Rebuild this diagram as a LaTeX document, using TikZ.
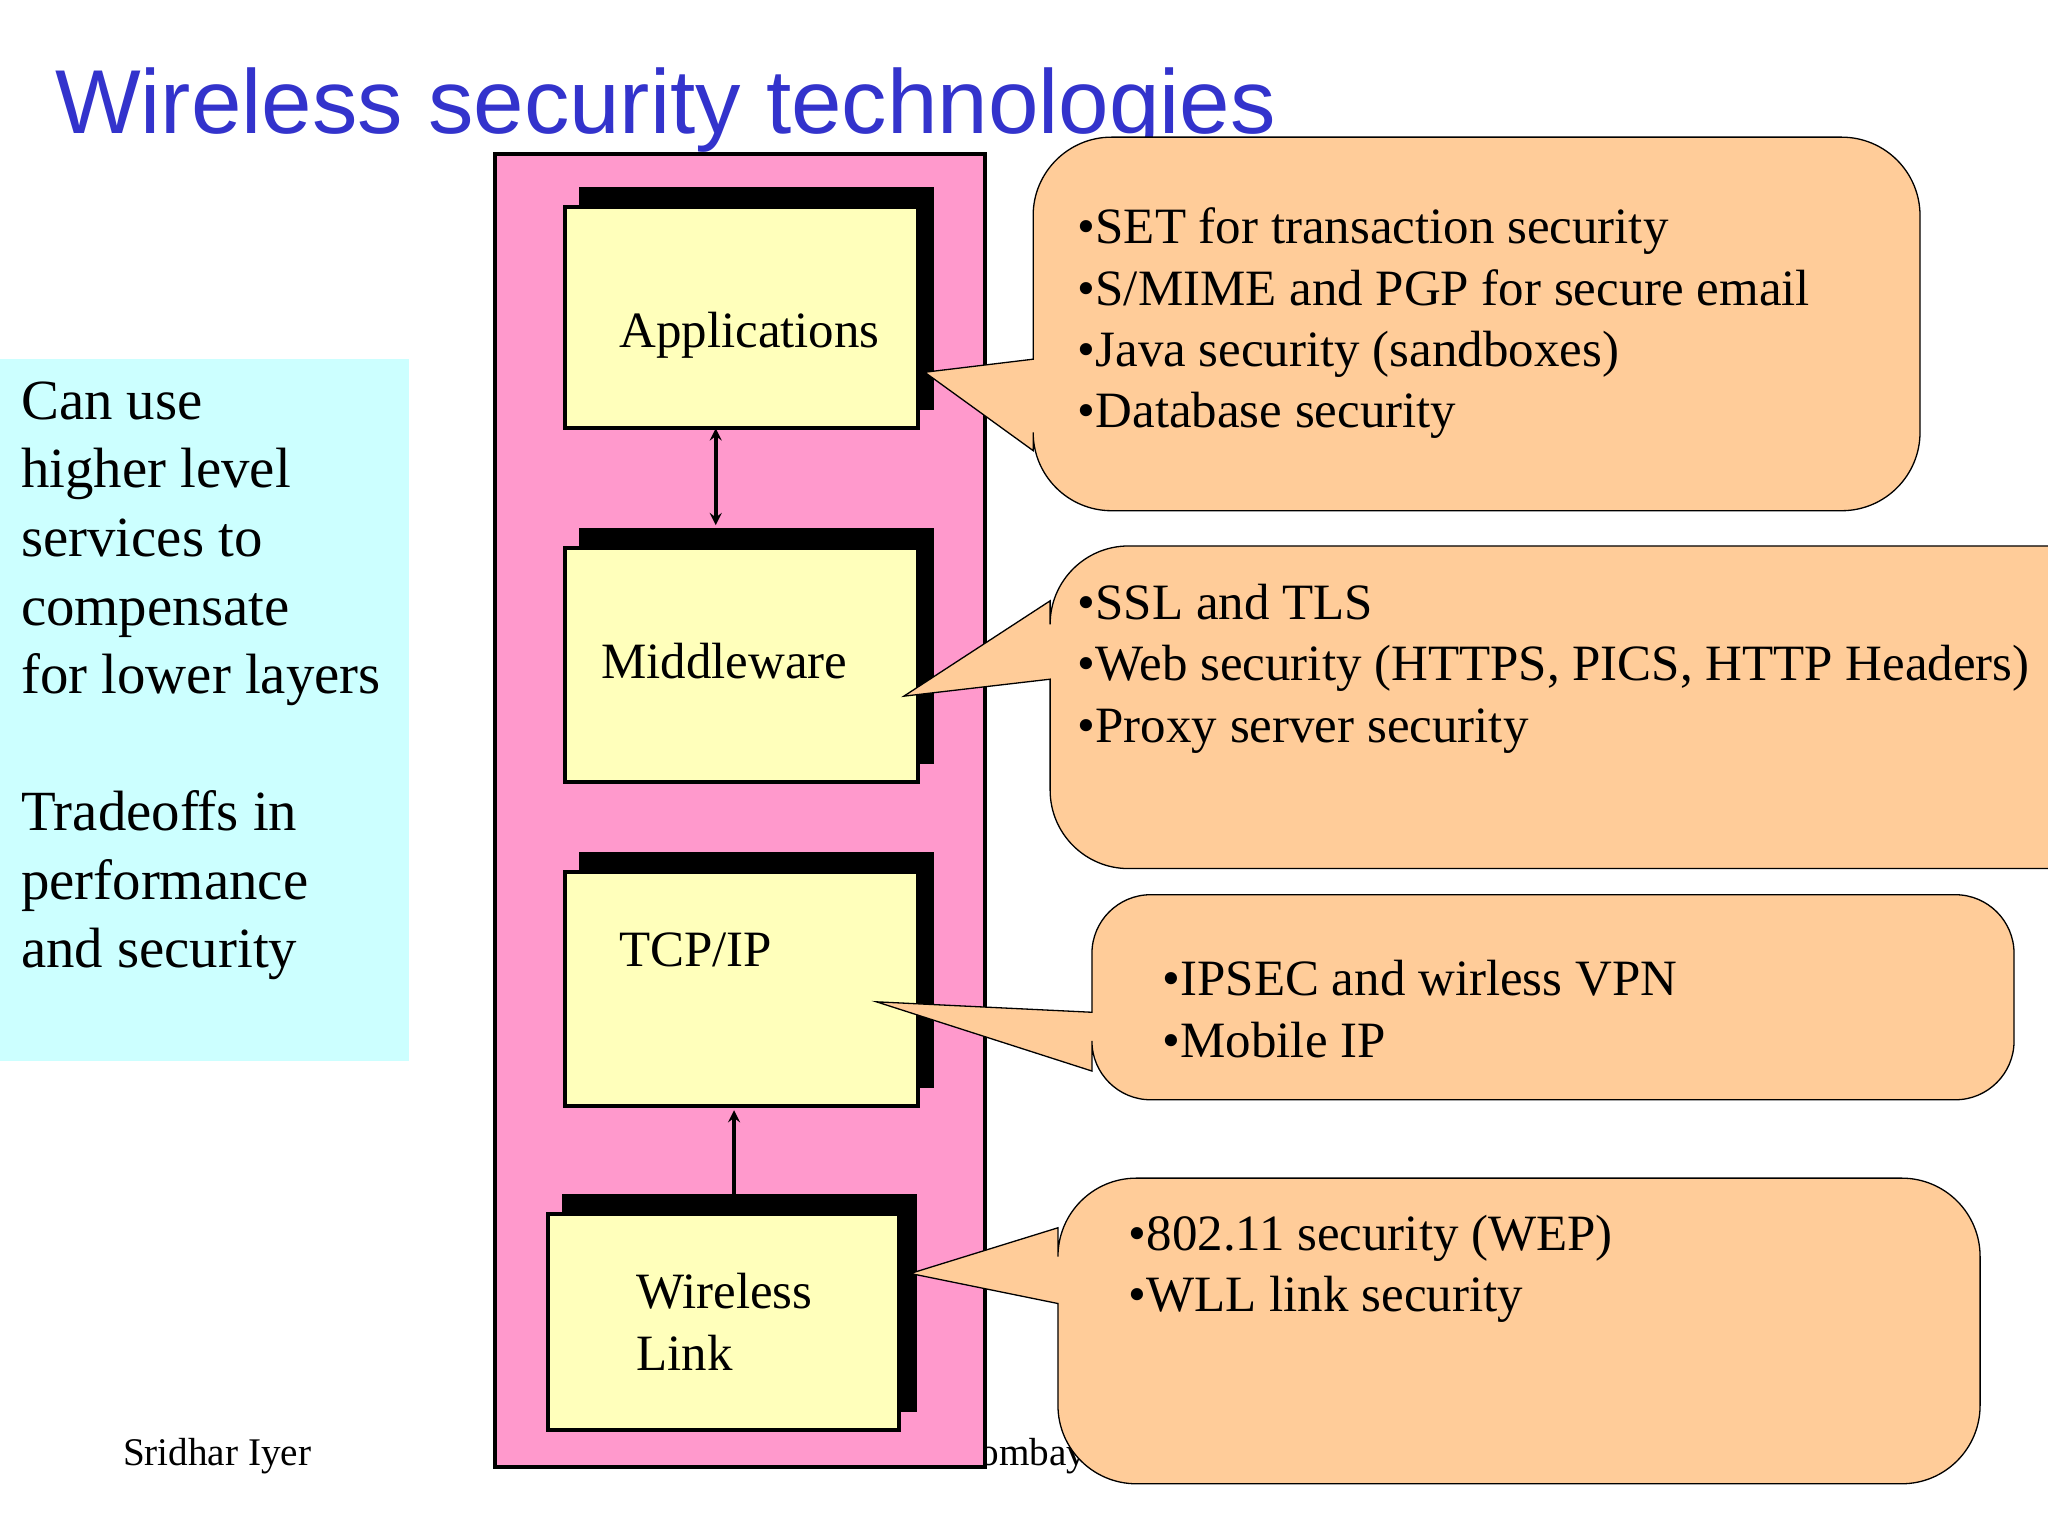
\documentclass[tikz,border=0pt]{standalone}
\usepackage{fontspec}
\setmainfont{Liberation Serif}
\newfontfamily\titlefont{Liberation Sans}
\definecolor{ttl}{RGB}{51,51,204}
\definecolor{cyanbg}{RGB}{204,255,255}
\definecolor{pinkbg}{RGB}{255,153,204}
\definecolor{boxy}{RGB}{255,255,187}
\definecolor{callo}{RGB}{255,204,153}
\begin{document}
\begin{tikzpicture}[x=1pt,y=-1pt,
  layer/.style={draw=black,line width=3pt,fill=boxy},
  shad/.style={fill=black},
  call/.style={draw=black,line width=1pt,fill=callo},
  ctext/.style={anchor=north west,align=left,font=\fontsize{39}{47}\selectfont,inner sep=0pt},
  btext/.style={anchor=west,align=left,font=\fontsize{39}{47}\selectfont,inner sep=0pt}]
\useasboundingbox (0,0) rectangle (1568,1176);
\fill[white] (0,0) rectangle (1568,1176);
\node[anchor=base west,inner sep=0pt,text=ttl,font=\titlefont\fontsize{69.5}{75}\selectfont] (title) at (42,102) {Wireless security technologies};
\fill[cyanbg] (0,275) rectangle (313,812);
\node[anchor=north west,align=left,inner sep=0pt,font=\fontsize{43.5}{52.5}\selectfont] (left) at (16,292) {Can use\\higher level\\services to\\compensate\\for lower layers\\[52.5pt]Tradeoffs in\\performance\\and security};
\node[anchor=base east,inner sep=0pt,font=\fontsize{30}{34}\selectfont] (iit) at (832,1122) {IIT Bombay};
\node[anchor=base west,inner sep=0pt,font=\fontsize{30}{34}\selectfont] (auth) at (94,1122) {Sridhar Iyer};
\draw[line width=3pt,fill=pinkbg] (379,118) rectangle (754,1123);
\fill[shad] (443,143) rectangle (715,314);
\fill[shad] (443,404) rectangle (715,585);
\fill[shad] (443,652) rectangle (715,833);
\fill[shad] (430,914) rectangle (702,1081);
\node[layer,minimum width=270pt,minimum height=169pt,anchor=north west] (app) at (431,157) {};
\node[layer,minimum width=270pt,minimum height=179pt,anchor=north west] (mid) at (431,418) {};
\node[layer,minimum width=270pt,minimum height=179pt,anchor=north west] (tcp) at (431,666) {};
\node[layer,minimum width=269pt,minimum height=165pt,anchor=north west] (wl) at (418,928) {};
\node[btext] at (474,257) {Applications};
\node[btext] at (460,506) {Middleware};
\node[btext] at (474,727) {TCP/IP};
\node[btext] at (487,1012) {Wireless\\Link};
\draw[line width=3pt,<->,>=stealth] (548,328) -- (548,402);
\coordinate (wltop) at (562,914);
\draw[line width=3pt,->,>=stealth] (wltop) -- (562,850);
\draw[call] [rounded corners=60pt] (791,275) -- (791,105) -- (1470,105) -- (1470,391) -- (791,391) [sharp corners] -- (791,345) -- (708,285) -- cycle;
\draw[call] [rounded corners=60pt] (804,460) -- (804,418) -- (1640,418) -- (1640,665) -- (804,665) [sharp corners] -- (804,520) -- (692,533) -- cycle;
\draw[call] [rounded corners=45pt] (836,775) -- (836,685) -- (1542,685) -- (1542,842) -- (836,842) [sharp corners] -- (836,820) -- (671,767) -- cycle;
\draw[call] [rounded corners=60pt] (810,940) -- (810,902) -- (1516,902) -- (1516,1136) -- (810,1136) [sharp corners] -- (810,998) -- (697,975) -- cycle;
\node[ctext] (c1) at (825,159) {•SET for transaction security\\•S/MIME and PGP for secure email\\•Java security (sandboxes)\\•Database security};
\node[ctext] (c2) at (825,447) {•SSL and TLS\\•Web security (HTTPS, PICS, HTTP Headers)\\•Proxy server security};
\node[ctext] (c3) at (890,735) {•IPSEC and wirless VPN\\•Mobile IP};
\node[ctext] (c4) at (864,930) {•802.11 security (WEP)\\•WLL link security};
\end{tikzpicture}
\end{document}
